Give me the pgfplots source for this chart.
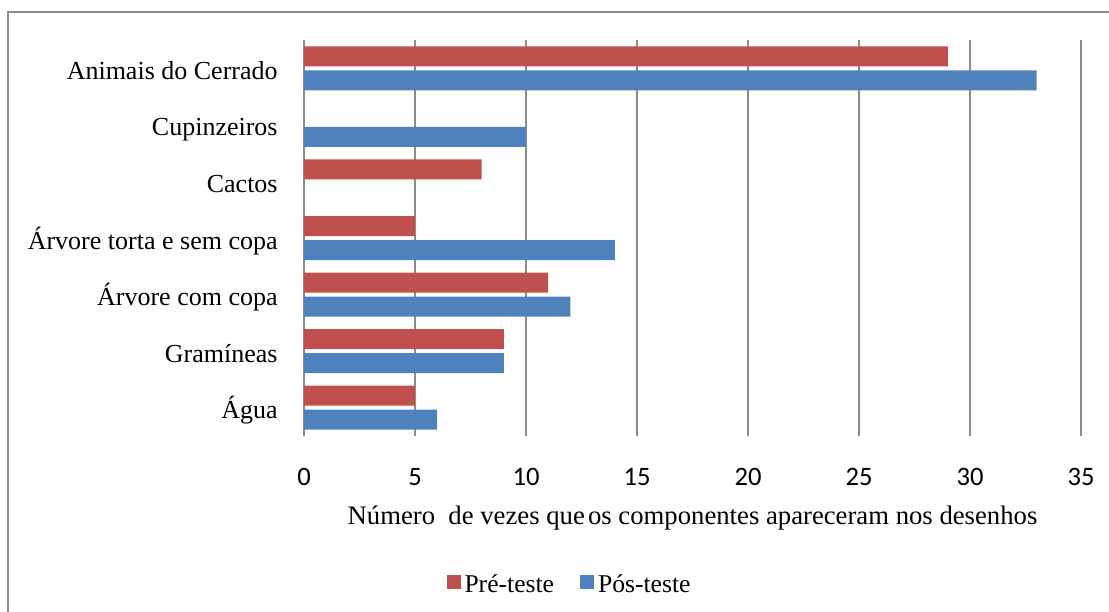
\documentclass[border=0pt]{standalone}
\usepackage{pgfplots}
\pgfplotsset{compat=1.18}
\usepackage{fontspec}
\setmainfont{Liberation Serif}
\newfontfamily\carlito{Carlito}
\definecolor{myred}{HTML}{C0504D}
\definecolor{myblue}{HTML}{4F81BD}
\definecolor{gridgray}{HTML}{8C8C8C}
\begin{document}
\begin{tikzpicture}[x=1pt,y=1pt]
\useasboundingbox (0,0) rectangle (554.5,305.5);
\draw[gridgray, line width=1pt] (4,-5) -- (4,299.5) -- (560,299.5);
\begin{axis}[
 at={(152pt,87.5pt)}, anchor=south west,
 scale only axis, width=388.5pt, height=198pt,
 xbar, bar width=10pt,
 xmin=0, xmax=35, ymin=-0.5, ymax=6.5,
 xtick={0,5,...,35},
 ytick={0,...,6},
 yticklabels={Água, Gramíneas, Árvore com copa, Árvore torta e sem copa, Cactos, Cupinzeiros, Animais do Cerrado},
 axis line style={draw=none},
 major tick length=0pt,
 xmajorgrids, grid style={gridgray, line width=0.75pt},
 xticklabel style={font=\fontsize{13.3}{15}\selectfont\carlito, /pgf/number format/assume math mode=true, anchor=base, inner sep=0pt, yshift=-24.5pt},
 yticklabel style={font=\fontsize{13}{15}\selectfont\rmfamily, anchor=base east, inner sep=0pt, xshift=-13pt, yshift=-5.5pt},
 xlabel={Número\ \ de vezes que\hspace{0.12em}os componentes apareceram nos desenhos},
 xlabel style={at={(axis description cs:0.5,0)}, anchor=base, inner sep=0pt, yshift=-44.5pt, font=\fontsize{13.35}{15}\selectfont\rmfamily},
 legend columns=2,
 legend style={at={(axis description cs:0.343,-0.376)}, anchor=center, draw=none, fill=none, font=\fontsize{12.8}{15}\selectfont\rmfamily, /tikz/every even column/.append style={column sep=11pt}},
 legend image code/.code={\fill[#1] (0pt,-2pt) rectangle (7pt,5pt);},
]
\addplot[fill=myred, draw=none, bar shift=6pt] coordinates {(5,0) (9,1) (11,2) (5,3) (8,4) (29,6)};
\addlegendentry{Pré-teste}
\addplot[fill=myblue, draw=none, bar shift=-6pt] coordinates {(6,0) (9,1) (12,2) (14,3) (10,5) (33,6)};
\addlegendentry{Pós-teste}
\end{axis}
\end{tikzpicture}
\end{document}
